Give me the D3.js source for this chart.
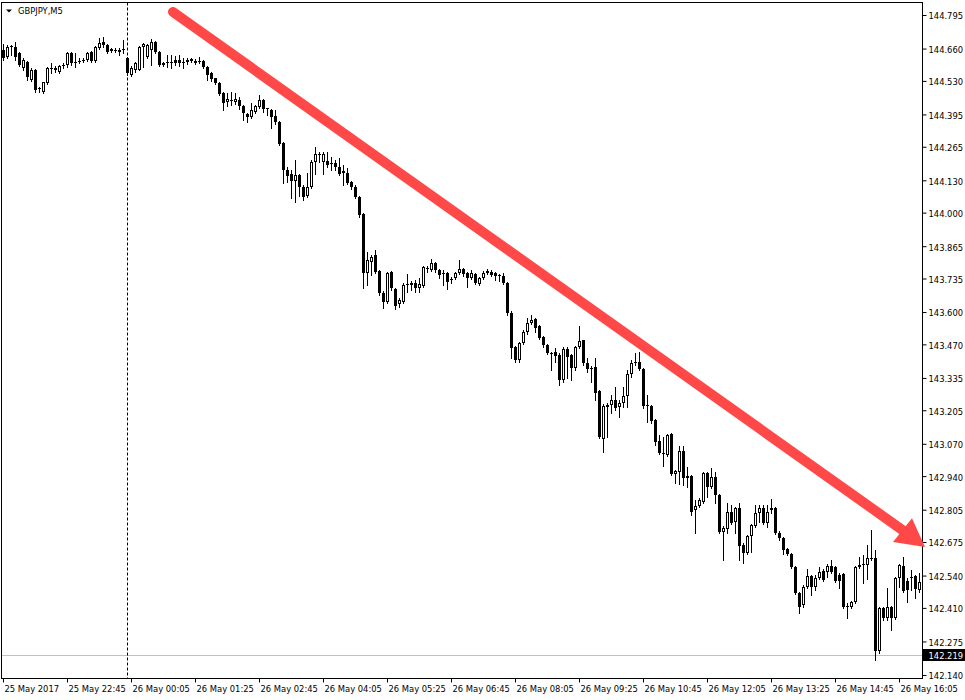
<!DOCTYPE html>
<html><head><meta charset="utf-8">
<script src="https://cdn.jsdelivr.net/npm/d3@7"></script>
<style>body{margin:0;background:#fff}svg{display:block}</style>
</head><body>
<svg id="chart" width="965" height="700"></svg>
<script>
const symbolTitle = "GBPJPY,M5";

const opens = [
144.654,144.626,144.666,144.666,144.642,144.582,144.606,144.533,144.573,144.501,
144.485,144.521,144.577,144.582,144.565,144.590,144.594,144.642,144.602,144.606,
144.610,144.614,144.646,144.610,144.662,144.686,144.674,144.658,144.654,144.654,
144.658,144.622,144.553,144.573,144.573,144.666,144.626,144.654,144.686,144.646,
144.594,144.602,144.606,144.614,144.614,144.606,144.606,144.618,144.610,144.610,
144.610,144.586,144.561,144.541,144.521,144.481,144.445,144.453,144.445,144.453,
144.429,144.396,144.384,144.404,144.425,144.453,144.420,144.412,144.388,144.364,
144.280,144.171,144.155,144.127,144.151,144.103,144.066,144.103,144.203,144.236,
144.203,144.207,144.199,144.199,144.183,144.159,144.159,144.123,144.103,144.062,
143.994,143.757,143.801,143.829,143.765,143.676,143.640,143.761,143.692,143.632,
143.640,143.709,143.709,143.717,143.697,143.705,143.777,143.769,143.797,143.769,
143.757,143.757,143.729,143.737,143.757,143.773,143.757,143.737,143.753,143.713,
143.737,143.757,143.761,143.757,143.749,143.745,143.717,143.596,143.459,143.407,
143.475,143.519,143.556,143.572,143.543,143.499,143.467,143.435,143.439,143.427,
143.326,143.451,143.427,143.375,143.459,143.487,143.395,143.375,143.379,143.282,
143.089,143.218,143.226,143.246,143.218,143.234,143.262,143.350,143.395,143.399,
143.371,143.226,143.222,143.165,143.081,143.033,143.025,143.109,142.948,142.956,
143.041,142.932,142.940,142.803,142.819,142.835,142.952,142.896,142.936,142.863,
142.715,142.727,142.795,142.755,142.811,142.663,142.631,142.699,142.739,142.791,
142.811,142.751,142.803,142.811,142.711,142.691,142.647,142.627,142.574,142.469,
142.421,142.494,142.538,142.494,142.530,142.558,142.554,142.578,142.574,142.542,
142.546,142.417,142.413,142.433,142.574,142.582,142.582,142.610,142.610,142.236,
142.409,142.369,142.413,142.369,142.530,142.578,142.518,142.530,142.538,142.481
];
const highs = [
144.678,144.674,144.674,144.686,144.646,144.622,144.610,144.582,144.577,144.505,
144.525,144.586,144.602,144.590,144.594,144.602,144.646,144.646,144.642,144.622,
144.622,144.646,144.650,144.670,144.702,144.706,144.678,144.662,144.662,144.662,
144.694,144.626,144.590,144.606,144.670,144.682,144.678,144.698,144.690,144.650,
144.606,144.634,144.634,144.630,144.634,144.622,144.622,144.622,144.618,144.626,
144.614,144.590,144.565,144.541,144.525,144.485,144.481,144.485,144.481,144.465,
144.433,144.400,144.441,144.433,144.473,144.457,144.420,144.416,144.412,144.368,
144.284,144.183,144.171,144.211,144.155,144.111,144.159,144.211,144.264,144.244,
144.244,144.244,144.223,144.211,144.219,144.191,144.179,144.127,144.111,144.066,
143.998,143.841,143.829,143.849,143.769,143.684,143.761,143.765,143.697,143.656,
143.717,143.753,143.725,143.729,143.737,143.785,143.785,143.813,143.801,143.773,
143.769,143.761,143.741,143.761,143.809,143.777,143.761,143.769,143.757,143.741,
143.765,143.773,143.769,143.761,143.753,143.757,143.721,143.604,143.463,143.479,
143.527,143.576,143.588,143.576,143.547,143.503,143.471,143.439,143.455,143.435,
143.459,143.459,143.431,143.463,143.544,143.487,143.415,143.383,143.415,143.286,
143.230,143.234,143.266,143.298,143.246,143.298,143.366,143.407,143.435,143.439,
143.375,143.266,143.226,143.169,143.105,143.097,143.109,143.113,142.964,143.061,
143.061,142.976,142.944,142.843,142.851,142.956,142.956,142.972,142.956,142.867,
142.739,142.831,142.823,142.815,142.831,142.671,142.703,142.747,142.823,142.823,
142.823,142.823,142.847,142.815,142.719,142.695,142.651,142.631,142.578,142.473,
142.502,142.566,142.542,142.542,142.574,142.566,142.586,142.602,142.578,142.550,
142.550,142.429,142.437,142.578,142.614,142.622,142.663,142.723,142.643,142.413,
142.413,142.489,142.417,142.534,142.586,142.614,142.530,142.562,142.542,142.550
];
const lows = [
144.614,144.622,144.634,144.614,144.590,144.573,144.533,144.529,144.485,144.485,
144.481,144.517,144.561,144.565,144.561,144.582,144.586,144.594,144.586,144.602,
144.606,144.610,144.606,144.606,144.658,144.666,144.642,144.646,144.646,144.634,
144.642,144.553,144.549,144.565,144.573,144.586,144.622,144.594,144.642,144.590,
144.590,144.586,144.582,144.594,144.590,144.582,144.598,144.606,144.598,144.602,
144.582,144.533,144.529,144.517,144.473,144.412,144.429,144.433,144.437,144.416,
144.372,144.364,144.380,144.400,144.420,144.404,144.392,144.340,144.356,144.272,
144.119,144.123,144.059,144.042,144.066,144.050,144.062,144.099,144.155,144.203,
144.155,144.183,144.171,144.171,144.151,144.111,144.115,144.095,144.059,143.982,
143.697,143.709,143.749,143.757,143.668,143.616,143.636,143.688,143.612,143.620,
143.636,143.680,143.688,143.680,143.680,143.701,143.761,143.765,143.761,143.737,
143.709,143.692,143.717,143.733,143.753,143.745,143.701,143.733,143.713,143.709,
143.733,143.753,143.745,143.729,143.725,143.713,143.588,143.415,143.399,143.399,
143.471,143.511,143.552,143.519,143.491,143.459,143.431,143.366,143.399,143.306,
143.318,143.334,143.326,143.366,143.455,143.387,143.358,143.318,143.246,143.093,
143.037,143.097,143.194,143.206,143.178,143.218,143.218,143.338,143.387,143.366,
143.214,143.157,143.153,143.065,143.029,142.980,143.021,142.944,142.912,142.908,
142.904,142.896,142.783,142.711,142.815,142.831,142.855,142.892,142.831,142.711,
142.602,142.711,142.747,142.711,142.602,142.590,142.627,142.635,142.735,142.755,
142.747,142.735,142.791,142.707,142.683,142.626,142.622,142.570,142.465,142.389,
142.413,142.490,142.461,142.481,142.526,142.518,142.534,142.550,142.514,142.489,
142.409,142.369,142.409,142.429,142.570,142.510,142.526,142.602,142.200,142.228,
142.361,142.361,142.321,142.365,142.494,142.473,142.433,142.481,142.449,142.473
];
const closes = [
144.622,144.666,144.670,144.626,144.594,144.614,144.545,144.573,144.493,144.497,
144.525,144.582,144.582,144.573,144.590,144.594,144.642,144.602,144.606,144.610,
144.614,144.642,144.610,144.666,144.682,144.674,144.646,144.650,144.650,144.646,
144.654,144.561,144.582,144.602,144.666,144.678,144.674,144.686,144.646,144.594,
144.602,144.606,144.604,144.602,144.602,144.602,144.614,144.610,144.602,144.606,
144.586,144.553,144.537,144.521,144.477,144.441,144.457,144.451,144.457,144.429,
144.400,144.384,144.412,144.429,144.453,144.416,144.416,144.384,144.364,144.276,
144.171,144.147,144.127,144.151,144.103,144.062,144.103,144.203,144.236,144.234,
144.236,144.191,144.195,144.183,144.155,144.167,144.119,144.103,144.062,143.990,
143.757,143.809,143.821,143.761,143.676,143.640,143.757,143.697,143.624,143.648,
143.709,143.713,143.717,143.697,143.713,143.781,143.773,143.797,143.769,143.749,
143.753,143.721,143.733,143.757,143.773,143.753,143.737,143.757,143.717,143.737,
143.757,143.765,143.749,143.745,143.746,143.717,143.596,143.455,143.407,143.475,
143.519,143.556,143.568,143.535,143.495,143.467,143.435,143.431,143.423,143.326,
143.451,143.419,143.375,143.459,143.483,143.395,143.371,143.371,143.274,143.097,
143.222,143.226,143.246,143.214,143.234,143.262,143.350,143.395,143.399,143.371,
143.222,143.221,143.161,143.077,143.033,143.030,143.105,142.948,142.960,143.041,
142.932,142.940,142.795,142.819,142.843,142.952,142.896,142.936,142.863,142.715,
142.731,142.795,142.751,142.811,142.659,142.631,142.699,142.743,142.791,142.811,
142.751,142.795,142.811,142.711,142.691,142.643,142.627,142.574,142.469,142.413,
142.494,142.538,142.494,142.530,142.554,142.522,142.578,142.554,142.518,142.518,
142.413,142.413,142.433,142.574,142.582,142.586,142.610,142.608,142.236,142.409,
142.369,142.413,142.369,142.530,142.582,142.477,142.481,142.534,142.485,142.514
];

// time-axis labels, one every 16 bars (80 minutes of M5 bars)
const labelStep = 16;
const timeLabels = ["25 May 2017","25 May 22:45","26 May 00:05","26 May 01:25","26 May 02:45",
  "26 May 04:05","26 May 05:25","26 May 06:45","26 May 08:05","26 May 09:25","26 May 10:45",
  "26 May 12:05","26 May 13:25","26 May 14:45","26 May 16:05"];
const priceTicks = [144.795,144.660,144.530,144.395,144.265,144.130,144.000,143.865,143.735,
  143.600,143.470,143.335,143.205,143.070,142.940,142.805,142.675,142.540,142.410,142.275,142.140];
const currentPrice = 142.219;
const daySeparatorBar = 31;
// hand-drawn trend arrow, in (bar index, price)
const arrowStart = [42.5, 144.807];
const arrowTip = [230.5, 142.655];
const arrowCornerA = [227.25, 142.771];
const arrowCornerB = [222.5, 142.675];

(function draw() {
const W = 965, H = 700;
const pL = 1.5, pT = 2.5, pR = 922.5, pB = 678.5;
const FONT = "'DejaVu Sans Condensed','DejaVu Sans',sans-serif";
const FS = "9.3px";

const svg = d3.select("#chart");
svg.append("rect").attr("width", W).attr("height", H).attr("fill", "#fff");

const x = d3.scaleLinear().domain([0, opens.length - 1]).range([3, 919]);
const y = d3.scaleLinear().domain([142.140, 144.795]).range([675, 15]);

const bars = opens.map((o, i) => ({i, o, h: highs[i], l: lows[i], c: closes[i]}));

// current price line
const yCur = Math.round(y(currentPrice)) + 0.5;
svg.append("line").attr("x1", pL).attr("x2", pR).attr("y1", yCur).attr("y2", yCur)
  .attr("stroke", "#c0c0c0").attr("stroke-width", 1);

// day separator
const xSep = Math.round(x(daySeparatorBar)) + 0.5;
svg.append("line").attr("x1", xSep).attr("x2", xSep).attr("y1", pT).attr("y2", pB)
  .attr("stroke", "#000").attr("stroke-width", 1).attr("stroke-dasharray", "3,2");

// candles
const g = svg.append("g");
const cg = g.selectAll("g.c").data(bars).join("g").attr("class", "c");
cg.append("rect")
  .attr("x", d => Math.round(x(d.i)))
  .attr("y", d => Math.round(y(d.h)))
  .attr("width", 1)
  .attr("height", d => Math.round(y(d.l)) - Math.round(y(d.h)) + 1)
  .attr("fill", "#000");
cg.each(function(d) {
  const cx = Math.round(x(d.i));
  const t = Math.round(y(Math.max(d.o, d.c)));
  const b = Math.round(y(Math.min(d.o, d.c)));
  const sel = d3.select(this);
  if (d.c > d.o && b - t >= 2) {
    sel.append("rect").attr("x", cx - 0.5).attr("y", t + 0.5).attr("width", 2).attr("height", b - t - 1)
      .attr("fill", "#fff").attr("stroke", "#000").attr("stroke-width", 1);
  } else {
    sel.append("rect").attr("x", cx - 1).attr("y", t).attr("width", 3).attr("height", Math.max(1, b - t))
      .attr("fill", "#000");
  }
});

// frame
svg.append("rect").attr("x", pL).attr("y", pT).attr("width", pR - pL).attr("height", pB - pT)
  .attr("fill", "none").attr("stroke", "#000").attr("stroke-width", 1);

// y axis
const yAxis = d3.axisRight(y).tickValues(priceTicks).tickSize(4).tickPadding(2)
  .tickFormat(d3.format(".3f"));
const ya = svg.append("g").attr("transform", `translate(${pR},0)`).call(yAxis);
ya.select(".domain").remove();
ya.selectAll(".tick line").attr("stroke", "#000");
ya.selectAll(".tick text").attr("fill", "#000").style("font-family", FONT).style("font-size", FS)
  .attr("dy", "0.42em");

// x axis
const xAxis = d3.axisBottom(x).tickValues(d3.range(0, opens.length, labelStep)).tickSize(4).tickPadding(3)
  .tickFormat((d, i) => timeLabels[i]);
const xa = svg.append("g").attr("transform", `translate(0,${pB})`).call(xAxis);
xa.select(".domain").remove();
xa.selectAll(".tick line").attr("stroke", "#000");
xa.selectAll(".tick text").attr("fill", "#000").style("font-family", FONT).style("font-size", FS)
  .attr("text-anchor", "start").attr("x", 1);

// current price label
svg.append("rect").attr("x", pR + 0.5).attr("y", yCur - 6.5).attr("width", 42).attr("height", 12).attr("fill", "#000");
svg.append("text").attr("x", 928.5).attr("y", yCur + 3.5).attr("fill", "#fff")
  .style("font-family", FONT).style("font-size", FS).text(d3.format(".3f")(currentPrice));

// title
svg.append("path").attr("d", "M6,9.5L12,9.5L9,12.5Z").attr("fill", "#000");
svg.append("text").attr("x", 18).attr("y", 14).attr("fill", "#000")
  .style("font-family", FONT).style("font-size", FS).text(symbolTitle);

// arrow
const P = p => [x(p[0]), y(p[1])];
const A = P(arrowCornerA), B = P(arrowCornerB), T = P(arrowTip), S = P(arrowStart);
const baseMid = [(A[0] + B[0]) / 2, (A[1] + B[1]) / 2];
const red = "#ff4848";
svg.append("line").attr("x1", S[0]).attr("y1", S[1]).attr("x2", baseMid[0]).attr("y2", baseMid[1])
  .attr("stroke", red).attr("stroke-width", 10).attr("stroke-linecap", "round");
svg.append("path").attr("d", d3.line()([A, T, B]) + "Z").attr("fill", red);
})();
</script>
</body></html>
